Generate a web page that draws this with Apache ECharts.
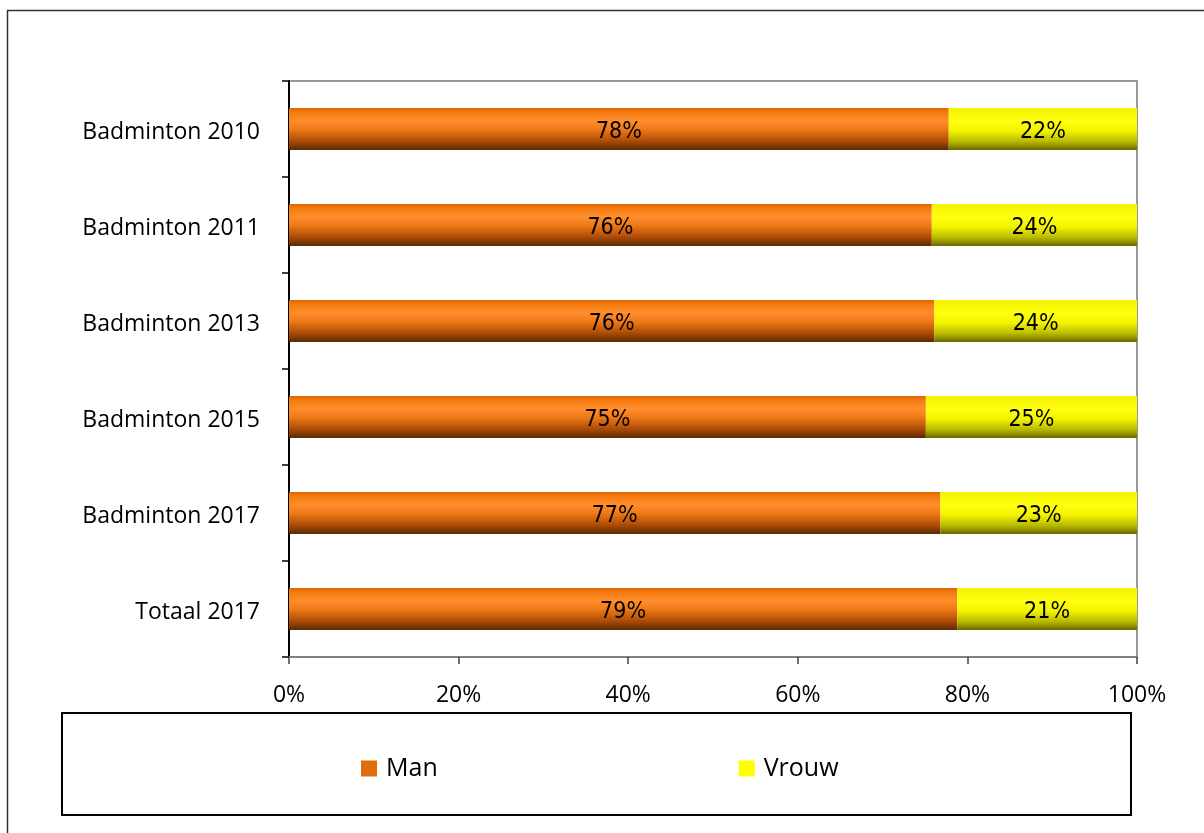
<!DOCTYPE html>
<html><head><meta charset="utf-8">
<script src="https://cdn.jsdelivr.net/npm/echarts@6/dist/echarts.min.js"></script>
<style>html,body{margin:0;padding:0;background:#fff}#c{width:1204px;height:833px}</style>
</head><body><div id="c"></div>
<script>
const categories = ['Badminton 2010','Badminton 2011','Badminton 2013','Badminton 2015','Badminton 2017','Totaal 2017'];
const manValues = [77.8, 75.8, 76.1, 75.1, 76.8, 78.8];
const vrouwValues = [22.2, 24.2, 23.9, 24.9, 23.2, 21.2];
const xTicks = [0,20,40,60,80,100];

const chart = echarts.init(document.getElementById('c'), null, {renderer:'canvas'});
const orangeGrad = new echarts.graphic.LinearGradient(0,0,0,1,[
  {offset:0, color:'#E06400'},{offset:0.1, color:'#F57A10'},{offset:0.3, color:'#FF8E2C'},
  {offset:0.5, color:'#F07A18'},{offset:0.75, color:'#B85208'},{offset:1, color:'#5C2800'}]);
const yellowGrad = new echarts.graphic.LinearGradient(0,0,0,1,[
  {offset:0, color:'#F2F200'},{offset:0.3, color:'#FFFF10'},{offset:0.55, color:'#F2F200'},
  {offset:0.8, color:'#B8B800'},{offset:1, color:'#6A6A00'}]);
const labelStyle = {show:true, position:'inside', offset:[0,3], color:'#000', fontSize:23,
  fontFamily:'"DejaVu Sans Condensed","Liberation Sans Narrow","Arial Narrow",sans-serif',
  formatter: p => Math.round(p.value) + '%'};
chart.setOption({
  animation:false,
  backgroundColor:'#fff',
  grid:{left:289, top:81, right:67, bottom:176, show:true, borderColor:'#9a9a9a', borderWidth:2, backgroundColor:'transparent'},
  legend:{left:361, top:756, padding:0, itemWidth:16, itemHeight:16, itemGap:301, icon:'rect',
    textStyle:{fontSize:25, fontFamily:'"Open Sans",sans-serif', color:'#000', padding:[0,0,0,4]},
    data:[{name:'Man', itemStyle:{color:'#E36C0A'}},{name:'Vrouw', itemStyle:{color:'#FFFF00'}}]},
  xAxis:{type:'value', min:0, max:100, interval:20,
    axisLine:{show:true, lineStyle:{color:'#808080', width:2}},
    axisTick:{show:true, length:7, lineStyle:{color:'#404040', width:1.5}},
    splitLine:{show:false},
    axisLabel:{formatter:v=>v+'%', color:'#000', fontSize:23, margin:27, fontFamily:'"Open Sans",sans-serif'}},
  yAxis:{type:'category', data:categories, inverse:true,
    axisLine:{show:true, lineStyle:{color:'#000', width:2}},
    axisTick:{show:true, length:7, lineStyle:{color:'#000', width:1.5}},
    axisLabel:{color:'#000', fontSize:23, margin:29, fontFamily:'"Open Sans",sans-serif',
      formatter: v => '{a|' + v + '}',
      rich:{a:{fontSize:23, fontFamily:'"Open Sans",sans-serif', color:'#000', padding:[6,0,0,0]}}}},
  series:[
    {name:'Man', type:'bar', stack:'t', data:manValues, barWidth:42,
     itemStyle:{color:orangeGrad}, label:labelStyle},
    {name:'Vrouw', type:'bar', stack:'t', data:vrouwValues, barWidth:42,
     itemStyle:{color:yellowGrad}, label:labelStyle}
  ],
  graphic:[
    {type:'rect', shape:{x:7.5, y:10.5, width:1210, height:840}, style:{fill:'none', stroke:'#333', lineWidth:1.5}, silent:true, z:-1},
    {type:'rect', shape:{x:62, y:713, width:1069, height:102}, style:{fill:'none', stroke:'#000', lineWidth:2}, silent:true}
  ]
});
</script></body></html>
